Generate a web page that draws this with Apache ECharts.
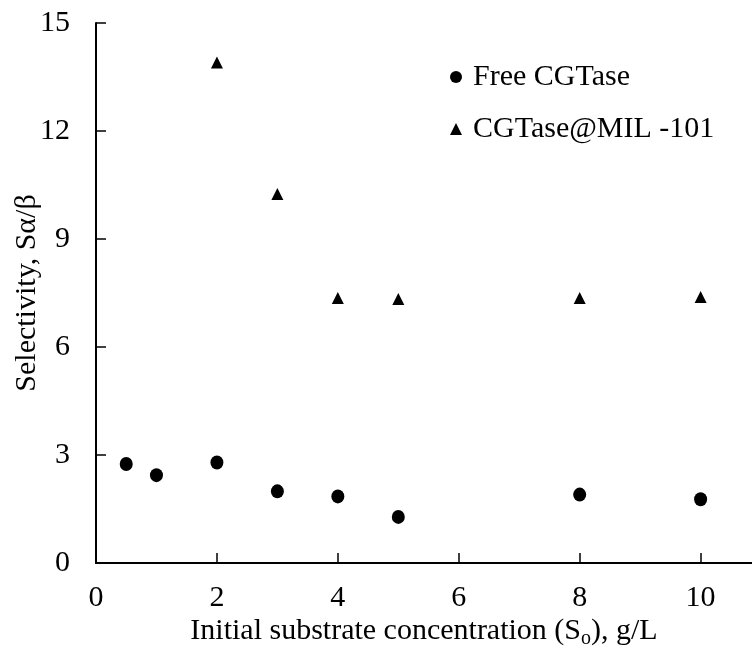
<!DOCTYPE html>
<html><head><meta charset="utf-8">
<script src="https://cdn.jsdelivr.net/npm/echarts@6/dist/echarts.min.js"></script>
<style>html,body{margin:0;padding:0;background:#fff}#c{width:752px;height:648px}</style>
</head><body><div id="c"></div>
<script>
const freeX = [0.5, 1, 2, 3, 4, 5, 8, 10];
const freeY = [2.75, 2.44, 2.79, 1.99, 1.85, 1.28, 1.90, 1.77];
const milX = [2, 3, 4, 5, 8, 10];
const milY = [13.9, 10.25, 7.36, 7.33, 7.36, 7.39];
const seriesNames = ['Free CGTase', 'CGTase@MIL -101'];
const xTitle = 'Initial substrate concentration (S{sub|o}), g/L';
const yTitle = 'Selectivity, Sα/β';

const font = 'Liberation Serif, Times New Roman, serif';
const FS = 30;
const chart = echarts.init(document.getElementById('c'));
chart.setOption({
  backgroundColor: '#fff',
  animation: false,
  textStyle: {fontFamily: font, color: '#000'},
  grid: {left: 96, right: 0, top: 23, bottom: 85, containLabel: false, outerBoundsMode: 'none'},
  legend: {
    orient: 'vertical', left: 445, top: 57, itemGap: 22,
    itemWidth: 12, itemHeight: 12,
    textStyle: {fontFamily: font, fontSize: FS, color: '#000', padding: [0, 0, 0, 6]},
    data: [{name: seriesNames[0], icon: 'circle', itemStyle:{color:'#000', opacity: 1}},
           {name: seriesNames[1], icon: 'triangle', itemStyle:{color:'#000', opacity: 1}}]
  },
  xAxis: {
    type: 'value', min: 0, max: 10.85, interval: 2,
    name: xTitle, nameLocation: 'middle', nameGap: 53, nameMoveOverlap: false,
    nameTextStyle: {fontFamily: font, fontSize: FS, color: '#000',
      rich: {sub: {fontFamily: font, fontSize: 20, verticalAlign: 'bottom', padding: [0,0,-3,0]}}},
    axisLine: {show: true, lineStyle: {color: '#000', width: 2}},
    axisTick: {show: true, inside: true, length: 10, lineStyle: {color: '#000', width: 1.5}},
    axisLabel: {fontFamily: font, fontSize: FS, color: '#000', margin: 20, showMaxLabel: false,
      formatter: v => (v % 2 === 0 ? String(v) : '')},
    splitLine: {show: false}
  },
  yAxis: {
    type: 'value', min: 0, max: 15, interval: 3,
    name: yTitle, nameLocation: 'middle', nameGap: 54, nameRotate: 90, nameMoveOverlap: false,
    nameTextStyle: {fontFamily: font, fontSize: FS, color: '#000'},
    axisLine: {show: true, lineStyle: {color: '#000', width: 2}},
    axisTick: {show: true, inside: true, length: 10, lineStyle: {color: '#000', width: 1.5}},
    axisLabel: {fontFamily: font, fontSize: FS, color: '#000', margin: 26},
    splitLine: {show: false}
  },
  series: [
    {name: seriesNames[0], type: 'scatter', symbol: 'circle', symbolSize: [13, 14],
     itemStyle: {color: '#000', opacity: 1}, data: freeX.map((x, i) => [x, freeY[i]])},
    {name: seriesNames[1], type: 'scatter', symbol: 'triangle', symbolSize: 12,
     itemStyle: {color: '#000', opacity: 1}, data: milX.map((x, i) => [x, milY[i]])}
  ]
});
</script></body></html>
